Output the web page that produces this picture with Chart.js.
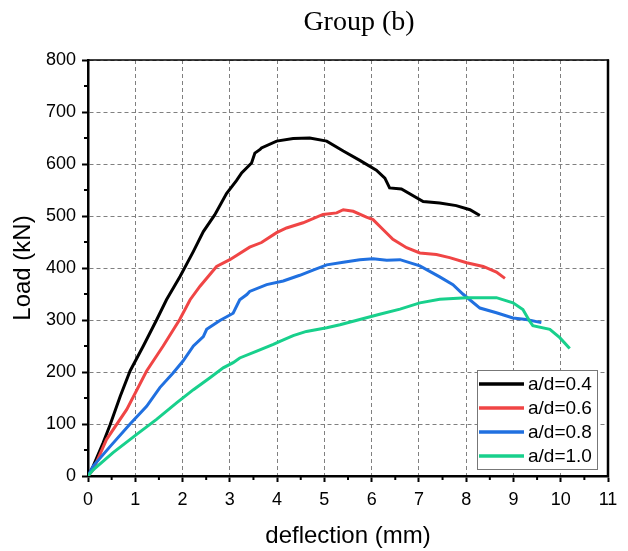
<!DOCTYPE html>
<html>
<head>
<meta charset="utf-8">
<script src="https://cdn.jsdelivr.net/npm/chart.js@4"></script>
<style>
  html, body { margin: 0; padding: 0; background: #fff; }
  #wrap { width: 628px; height: 551px; }
</style>
</head>
<body>
<div id="wrap"><canvas id="chart" width="628" height="551"></canvas></div>
<script>
// --- data (deflection in mm, load in kN) ---
const seriesLabels = ['a/d=0.4', 'a/d=0.6', 'a/d=0.8', 'a/d=1.0'];
const seriesColors = ['#000000', '#f04545', '#2070e0', '#18d08c'];

const defl04 = [0,0.11,0.32,0.47,0.68,0.89,1.17,1.45,1.66,1.95,2.23,2.44,2.68,2.93,3.14,3.25,3.46,3.53,3.64,3.67,3.99,4.34,4.69,5.05,5.40,5.75,6.10,6.28,6.38,6.63,7.09,7.44,7.79,8.08,8.29];
const load04 = [0,19,64,99,153,202,250,300,339,384,432,470,502,543,568,583,602,621,628,631,644,649,650,644,625,607,588,573,554,552,528,525,520,512,501];

const defl06 = [0,0.11,0.39,0.82,1.24,1.59,1.94,2.16,2.37,2.72,3.00,3.42,3.67,3.99,4.20,4.55,4.97,5.26,5.40,5.61,5.89,6.03,6.24,6.45,6.74,7.02,7.37,7.65,8.01,8.36,8.64,8.82];
const load06 = [0,12,70,128,202,250,301,339,365,403,416,440,449,468,477,487,503,506,512,509,498,493,474,455,439,429,426,420,410,403,392,380];

const defl08 = [0,0.11,0.47,0.89,1.24,1.52,1.80,2.01,2.23,2.44,2.51,2.79,3.07,3.21,3.36,3.42,3.78,4.13,4.48,4.76,5.05,5.40,5.75,6.03,6.32,6.60,7.02,7.44,7.72,7.93,8.29,8.64,8.99,9.27,9.59];
const load08 = [0,19,57,100,134,170,198,221,250,268,282,299,313,339,349,355,368,375,386,396,406,411,416,418,415,416,404,383,368,350,323,314,304,301,295];

const defl10 = [0,0.11,0.53,1.03,1.45,1.88,2.23,2.58,2.86,3.07,3.21,3.57,3.92,4.06,4.34,4.62,5.05,5.33,5.75,6.17,6.60,7.02,7.44,8.01,8.64,8.99,9.20,9.34,9.41,9.77,9.98,10.19];
const load10 = [0,12,45,80,109,141,166,189,208,218,227,240,253,259,270,278,285,291,301,311,321,333,340,343,343,333,320,298,289,282,266,245];

const xTicks = [0,1,2,3,4,5,6,7,8,9,10,11];
const yTicks = [0,100,200,300,400,500,600,700,800];

const FONT = 'Arial, "Liberation Sans", sans-serif';

function pts(xs, ys){ return xs.map((x, i) => ({ x: x, y: ys[i] })); }

const allX = [defl04, defl06, defl08, defl10];
const allY = [load04, load06, load08, load10];

// frame, minor ticks, title and legend
const decor = {
  id: 'decor',
  afterDraw(chart){
    const { ctx, chartArea: a, scales: { x, y } } = chart;
    ctx.save();
    // top + right frame
    ctx.strokeStyle = '#000';
    ctx.lineWidth = 1.5;
    ctx.beginPath(); ctx.moveTo(a.left, a.top); ctx.lineTo(a.right + 1, a.top); ctx.stroke();
    ctx.lineWidth = 2.5;
    ctx.beginPath(); ctx.moveTo(a.right, a.top - 0.5); ctx.lineTo(a.right, a.bottom + 1); ctx.stroke();

    // minor ticks
    ctx.lineWidth = 2;
    for (let i = 0; i < xTicks.length - 1; i++) {
      const px = x.getPixelForValue(xTicks[i] + 0.5);
      ctx.beginPath(); ctx.moveTo(px, a.bottom); ctx.lineTo(px, a.bottom + 4); ctx.stroke();
    }
    for (let i = 0; i < yTicks.length - 1; i++) {
      const py = y.getPixelForValue(yTicks[i] + 50);
      ctx.beginPath(); ctx.moveTo(a.left, py); ctx.lineTo(a.left - 4, py); ctx.stroke();
    }

    // title
    ctx.fillStyle = '#000';
    ctx.font = '28px "Liberation Serif", "Times New Roman", serif';
    ctx.textAlign = 'center';
    ctx.textBaseline = 'middle';
    ctx.fillText('Group (b)', 359, 23);

    // legend box
    const bx = a.right - 131, by = a.bottom - 106, bw = 120, bh = 99;
    ctx.fillStyle = '#fff';
    ctx.fillRect(bx, by, bw, bh);
    ctx.strokeStyle = '#777';
    ctx.lineWidth = 1;
    ctx.strokeRect(bx + 0.5, by + 0.5, bw, bh);
    ctx.font = '19px ' + FONT;
    ctx.textAlign = 'left';
    seriesLabels.forEach((lab, i) => {
      const cy = by + 14 + i * 24;
      ctx.strokeStyle = seriesColors[i];
      ctx.lineWidth = 3.5;
      ctx.beginPath(); ctx.moveTo(bx + 2, cy); ctx.lineTo(bx + 47, cy); ctx.stroke();
      ctx.fillStyle = '#000';
      ctx.fillText(lab, bx + 51, cy + 1);
    });
    ctx.restore();
  }
};

new Chart(document.getElementById('chart'), {
  type: 'scatter',
  data: {
    datasets: seriesLabels.map((lab, i) => ({
      label: lab,
      data: pts(allX[i], allY[i]),
      showLine: true,
      borderColor: seriesColors[i],
      backgroundColor: seriesColors[i],
      borderWidth: 3,
      pointRadius: 0,
      tension: 0,
      order: 4 - i
    }))
  },
  options: {
    responsive: false,
    animation: false,
    events: [],
    layout: { padding: { top: 60, right: 20, left: 0, bottom: 0 } },
    plugins: { legend: { display: false }, tooltip: { enabled: false }, title: { display: false } },
    scales: {
      x: {
        type: 'linear', min: 0, max: 11,
        afterFit(s){ s.height = 75; },
        afterBuildTicks(s){ s.ticks = xTicks.map(v => ({ value: v })); },
        grid: { color: '#808080', lineWidth: 1, tickLength: 6, tickColor: '#000', tickWidth: 2, tickBorderDash: [] },
        border: { display: true, color: '#000', width: 2.5, dash: [4, 3] },
        ticks: { color: '#000', font: { family: FONT, size: 18 }, padding: 7, maxRotation: 0 },
        title: { display: true, text: 'deflection (mm)', color: '#000', font: { family: FONT, size: 24, lineHeight: 1.2 }, padding: { top: 0, bottom: 0 } }
      },
      y: {
        type: 'linear', min: 0, max: 800,
        afterFit(s){ s.width = 88; },
        afterBuildTicks(s){ s.ticks = yTicks.map(v => ({ value: v })); },
        grid: { color: '#808080', lineWidth: 1, tickLength: 6, tickColor: '#000', tickWidth: 2, tickBorderDash: [] },
        border: { display: true, color: '#000', width: 2.5, dash: [4, 3] },
        ticks: { color: '#000', font: { family: FONT, size: 18 }, padding: 6 },
        title: { display: true, text: 'Load (kN)', color: '#000', font: { family: FONT, size: 24, lineHeight: 1 }, padding: { top: 11, bottom: 0 } }
      }
    }
  },
  plugins: [decor]
});
</script>
</body>
</html>
